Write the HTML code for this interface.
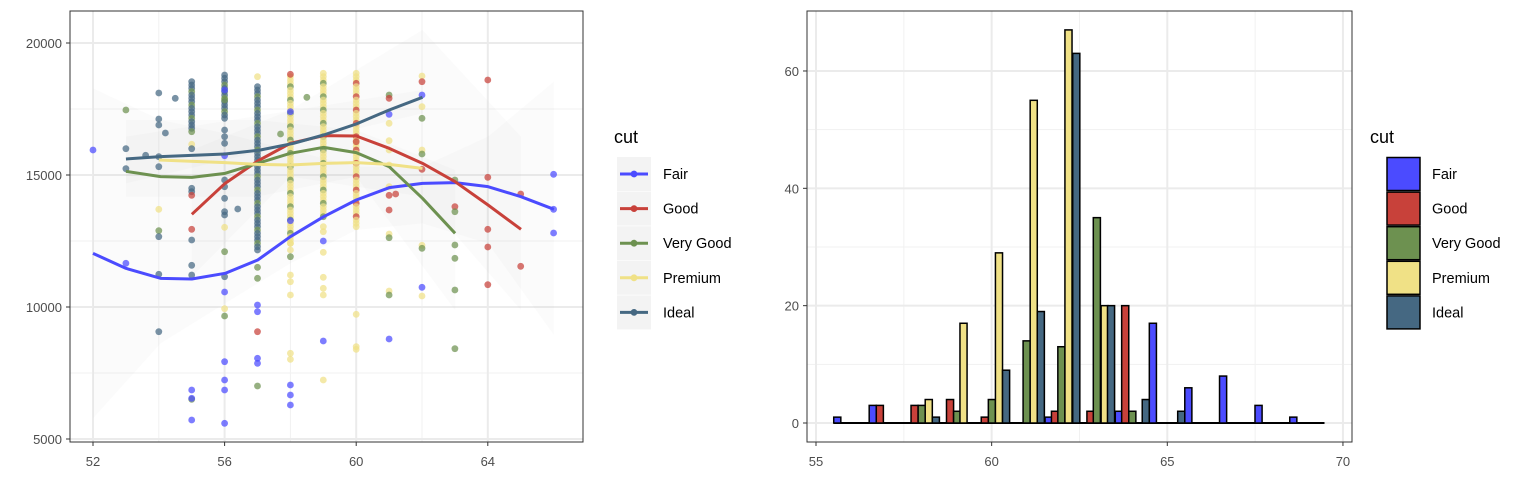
<!DOCTYPE html>
<html><head><meta charset="utf-8"><style>
body{margin:0;background:#fff;width:1536px;height:480px;overflow:hidden}
svg text{font-family:"Liberation Sans",Arial,sans-serif}
</style></head><body>
<svg id="s" width="1536" height="480" xmlns="http://www.w3.org/2000/svg"></svg>
<script>
const S=document.getElementById('s');let h='';
const C={F:'#4b4bff',G:'#c8413a',V:'#6d9150',P:'#f0e186',I:'#456882'};
const L=v=>93+(v-52)*32.9, LY=v=>43+(20000-v)*0.0264;
const ZX=zx=>93+(zx-97)*0.3328, ZY=zy=>10+zy/3;
h+='<rect x="70" y="11" width="513" height="431" fill="#fff"/>';
[54,58,62].forEach(v=>h+=`<line x1="${L(v)}" x2="${L(v)}" y1="11" y2="442" stroke="#f1f1f1" stroke-width="1"/>`);
[17500,12500,7500].forEach(v=>h+=`<line x1="70" x2="583" y1="${LY(v)}" y2="${LY(v)}" stroke="#f1f1f1"/>`);
[52,56,60,64].forEach(v=>h+=`<line x1="${L(v)}" x2="${L(v)}" y1="11" y2="442" stroke="#ebebeb" stroke-width="2"/>`);
[20000,15000,10000,5000].forEach(v=>h+=`<line x1="70" x2="583" y1="${LY(v)}" y2="${LY(v)}" stroke="#ebebeb" stroke-width="2"/>`);
const rib=[[[97,235],[300,330],[494,370],[690,420],[888,470],[1087,470],[1284,380],[1482,215],[1482,975],[1284,700],[1087,640],[888,660],[690,760],[494,880],[300,1000],[97,1225]],
[[394,420],[690,300],[1087,60],[1383,380],[1383,900],[1087,560],[690,500],[394,800]],
[[196,330],[590,330],[888,360],[1185,480],[1185,900],[888,500],[590,560],[196,560]],
[[196,380],[1087,240],[1087,310],[196,520]]];
rib.forEach(p=>h+=`<polygon points="${p.map(q=>ZX(q[0])+','+ZY(q[1])).join(' ')}" fill="#bbb" fill-opacity="0.06"/>`);
const pts={52:[['F',420]],53:[['V',300],['I',416],['I',476],['F',760]],
54:[['I',249],['I',327],['I',345],['I',440],['I',470],['V',662],['I',680],['P',598],['I',793],['I',965]],
54.5:[['I',265]],54.2:[['I',369]],53.6:[['I',436]],
55:[['P',403],['I',416],['I',535],['I',545],['G',556],['G',658],['I',690],['I',766],['I',795],['F',1140],['V',1168],['F',1165],['F',1230]],
56:[['F',240],['V',270],['I',360],['I',380],['I',400],['F',437],['I',510],['I',530],['I',565],['I',605],['I',615],['P',652],['V',725],['I',800],['F',846],['P',896],['V',918],['F',1055],['F',1110],['F',1140],['F',1240]],
56.4:[['I',597]],
57:[['P',200],['V',772],['V',805],['F',885],['F',905],['G',965],['F',1045],['F',1060],['V',1128]],
58:[['G',193],['F',305],['F',632],['P',700],['P',720],['V',740],['P',795],['P',815],['P',855],['F',1125],['F',1155],['F',1185],['P',1030],['P',1048]],
58.5:[['V',262]],57.7:[['V',372]],
59:[['P',650],['P',665],['F',693],['P',727],['P',802],['P',835],['P',855],['F',993],['P',1110]],
60:[['G',395],['P',913],['P',1010],['P',1018]],
61:[['V',255],['G',265],['F',313],['P',340],['P',392],['P',420],['P',465],['P',530],['G',556],['G',600],['P',672],['V',683],['P',843],['V',855],['F',987]],
61.2:[['G',552]],
62:[['P',198],['G',215],['F',255],['P',290],['V',325],['P',420],['V',432],['G',478],['P',706],['V',715],['F',832],['P',858]],
63:[['V',510],['G',590],['V',605],['V',705],['V',745],['V',840],['V',1016]],
64:[['G',210],['G',502],['G',658],['G',711],['G',824]],65:[['G',552],['G',769]],66:[['F',493],['F',598],['F',669]]};
const dense={55:[[215,370,'I',['V']]],56:[[195,330,'I',['V']]],57:[[230,720,'I',['P','V']]],58:[[200,700,'P',['G','V']]],59:[[190,620,'P',['V']]],60:[[190,650,'P',['V','G']]]};
let ds='';
for(const k in dense){dense[k].forEach(([a,b,m,o])=>{let i=0;for(let z=a;z<=b;z+=10){let c=(i%4==3)?o[i%o.length]:m;i++;ds+=`<circle cx="${L(+k)}" cy="${ZY(z)}" r="3.4" fill="${C[c]}" fill-opacity="0.72"/>`;}});}
h+=ds;
for(const k in pts)pts[k].forEach(([c,z])=>h+=`<circle cx="${L(+k)}" cy="${ZY(z)}" r="3.4" fill="${C[c]}" fill-opacity="0.72"/>`);
const lines={I:[[196,447],[300,440],[494,432],[600,420],[700,400],[790,375],[888,342],[987,300],[1087,262]],
P:[[295,450],[494,458],[592,463],[690,465],[790,460],[888,458],[987,463],[1087,475]],
V:[[196,484],[300,500],[394,502],[494,490],[592,460],[690,430],[790,412],[888,428],[987,470],[1087,565],[1185,670]],
G:[[394,613],[494,520],[592,453],[690,400],[790,377],[888,378],[987,415],[1087,460],[1185,515],[1284,585],[1383,658]],
F:[[97,730],[196,775],[300,805],[394,807],[494,790],[592,750],[690,680],[790,620],[888,570],[987,533],[1087,520],[1185,518],[1284,530],[1383,560],[1482,598]]};
['F','G','V','P','I'].forEach(k=>h+=`<polyline points="${lines[k].map(q=>ZX(q[0])+','+ZY(q[1])).join(' ')}" fill="none" stroke="${C[k]}" stroke-width="3" stroke-linejoin="round"/>`);
h+='<rect x="70" y="11" width="513" height="431" fill="none" stroke="#333" stroke-width="1"/>';
[52,56,60,64].forEach(v=>h+=`<line x1="${L(v)}" x2="${L(v)}" y1="442" y2="446" stroke="#333"/><text x="${L(v)}" y="466" font-size="13" fill="#4d4d4d" text-anchor="middle">${v}</text>`);
[20000,15000,10000,5000].forEach(v=>h+=`<line x1="66" x2="70" y1="${LY(v)}" y2="${LY(v)}" stroke="#333"/><text x="62" y="${LY(v)+5}" font-size="13" fill="#4d4d4d" text-anchor="end">${v}</text>`);
h+='<text x="614" y="143" font-size="18" fill="#000">cut</text>';
const names=['Fair','Good','Very Good','Premium','Ideal'],keys=['F','G','V','P','I'];
keys.forEach((k,i)=>{let y=174+i*34.6;h+=`<rect x="617" y="${y-17}" width="34" height="34" fill="#f3f3f3"/><line x1="620" x2="648" y1="${y}" y2="${y}" stroke="${C[k]}" stroke-width="3"/><circle cx="634" cy="${y}" r="3.4" fill="${C[k]}"/><text x="663" y="${y+5}" font-size="14.5">${names[i]}</text>`;});
const RX=v=>816+(v-55)*35.13, RY=v=>423-v*5.867;
[57.5,62.5,67.5].forEach(v=>h+=`<line x1="${RX(v)}" x2="${RX(v)}" y1="11" y2="442" stroke="#f1f1f1"/>`);
[10,30,50].forEach(v=>h+=`<line x1="807" x2="1352" y1="${RY(v)}" y2="${RY(v)}" stroke="#f1f1f1"/>`);
[55,60,65,70].forEach(v=>h+=`<line x1="${RX(v)}" x2="${RX(v)}" y1="11" y2="442" stroke="#ebebeb" stroke-width="2"/>`);
[0,20,40,60].forEach(v=>h+=`<line x1="807" x2="1352" y1="${RY(v)}" y2="${RY(v)}" stroke="#ebebeb" stroke-width="2"/>`);
const ZB=zx=>816+(zx-42)*0.3546;
h+=`<line x1="${ZB(92)}" x2="${ZB(1476)}" y1="423" y2="423" stroke="#000" stroke-width="2"/>`;
const bars=[[92,'F',1],[192,'F',3],[212,'G',3],[310,'G',3],[330,'V',3],[350,'P',4],[370,'I',1],[410,'G',4],[430,'V',2],[448,'P',17],
[508,'G',1],[528,'V',4],[548,'P',29],[568,'I',9],[626,'V',14],[646,'P',55],[666,'I',19],[688,'F',1],[706,'G',2],[724,'V',13],[744,'P',67],[766,'I',63],
[806,'G',2],[824,'V',35],[846,'P',20],[864,'I',20],[886,'F',2],[904,'G',20],[924,'V',2],[962,'I',4],[982,'F',17],[1062,'I',2],[1082,'F',6],[1180,'F',8],[1280,'F',3],[1378,'F',1]];
bars.forEach(([z,k,v])=>{let x=ZB(z),w=7.1;h+=`<rect x="${x}" y="${RY(v)}" width="${w}" height="${v*5.867}" fill="${C[k]}" stroke="#000" stroke-width="1.5"/>`;});
h+='<rect x="807" y="11" width="545" height="431" fill="none" stroke="#333"/>';
[55,60,65,70].forEach(v=>h+=`<line x1="${RX(v)}" x2="${RX(v)}" y1="442" y2="446" stroke="#333"/><text x="${RX(v)}" y="466" font-size="13" fill="#4d4d4d" text-anchor="middle">${v}</text>`);
[0,20,40,60].forEach(v=>h+=`<line x1="803" x2="807" y1="${RY(v)}" y2="${RY(v)}" stroke="#333"/><text x="799" y="${RY(v)+5}" font-size="13" fill="#4d4d4d" text-anchor="end">${v}</text>`);
h+='<text x="1370" y="143" font-size="18" fill="#000">cut</text>';
keys.forEach((k,i)=>{let y=174+i*34.6;h+=`<rect x="1387" y="${y-16.5}" width="33" height="33" fill="${C[k]}" stroke="#000" stroke-width="1.5"/><text x="1432" y="${y+5}" font-size="14.5">${names[i]}</text>`;});
S.innerHTML=h;
</script>
</body></html>
